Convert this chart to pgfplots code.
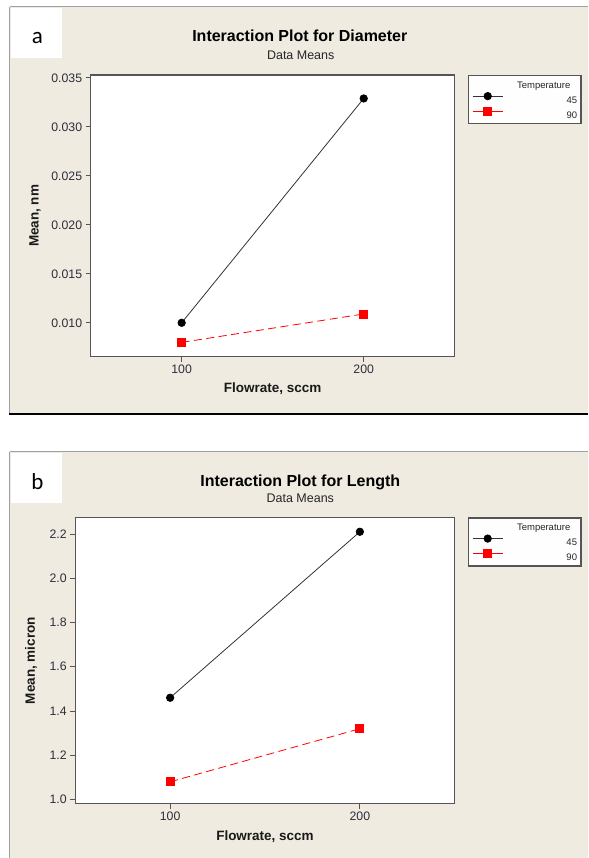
\documentclass[border=0pt]{standalone}
\usepackage{fontspec}
\setmainfont{Liberation Sans}
\newfontfamily\calibri{Carlito}
\usepackage{pgfplots}
\pgfplotsset{compat=1.18}
\definecolor{beige}{RGB}{239,235,225}
\definecolor{axgray}{RGB}{85,85,85}
\definecolor{ticktext}{RGB}{45,45,60}
\definecolor{framegray}{RGB}{160,160,160}
\definecolor{mred}{RGB}{255,0,0}

\pgfplotsset{
  every axis title shift=0pt,
  mtb/.style={
    scale only axis,
    axis background/.style={fill=white},
    axis line style={axgray, line width=1.2pt},
    xmin=50, xmax=250,
    xtick={100,200},
    tick align=outside,
    major tick length=5pt,
    tick style={axgray, line width=0.8pt},
    xtick pos=bottom, ytick pos=left,
    scaled y ticks=false,
    ticklabel style={font=\fontsize{12.3}{14}\selectfont, text=ticktext},
    /pgf/number format/assume math mode=true,
    label style={font=\bfseries\fontsize{13.5}{15}\selectfont, text=black!90},
    legend cell align=right,
    legend style={draw=axgray, line width=1.2pt, fill=white!97!beige,
      font=\fontsize{9.5}{11}\selectfont, text=black!85,
      inner xsep=4pt, inner ysep=1.5pt, row sep=0pt, column sep=0pt,
      anchor=north west,
      nodes={inner sep=0pt, text height=11pt, text depth=4pt, line width=0.4pt}},
    legend image code/.code={\draw[mark repeat=2,mark phase=2,#1]
      plot coordinates {(0pt,3.4pt) (15pt,3.4pt) (30pt,3.4pt)};},
  },
  s45/.style={black!80, line width=0.8pt, mark=*, mark size=3.7pt,
    mark options={solid, fill=black, draw=black}},
  s90/.style={mred, line width=0.8pt, dash pattern=on 8pt off 4.5pt,
    mark=square*, mark size=4pt, mark options={solid, fill=mred, draw=mred},
    legend image post style={solid}},
}

\begin{document}
\begin{tikzpicture}
% page background
\fill[white] (0pt,0pt) rectangle (588pt,858pt);
% ---- panel a frame
\fill[beige] (10pt,444pt) rectangle (588pt,851pt);
\draw[framegray, line width=1pt] (10pt,851pt) -- (588pt,851pt);
\draw[framegray, line width=1pt] (10pt,444pt) -- (10pt,851pt);
\draw[black, line width=1.8pt] (9.5pt,444pt) -- (588pt,444pt);
\fill[white] (11pt,800pt) rectangle (62pt,850pt);
\node[anchor=base, inner sep=0pt, font=\calibri\fontsize{23}{25}\selectfont] at (37.5pt,814.7pt) {a};
% ---- panel b frame
\fill[beige] (10pt,0pt) rectangle (588pt,406pt);
\draw[framegray, line width=1pt] (10pt,406pt) -- (588pt,406pt);
\draw[framegray, line width=1pt] (10pt,0pt) -- (10pt,406pt);
\fill[white] (11pt,355pt) rectangle (62pt,405pt);
\node[anchor=base, inner sep=0pt, font=\calibri\fontsize{23}{25}\selectfont] at (37.5pt,368pt) {b};

% ================= panel a
\begin{axis}[mtb,
  at={(90.7pt,501pt)}, anchor=south west,
  width=364.3pt, height=282pt,
  ymin=0.00653, ymax=0.0353,
  ytick={0.010,0.015,0.020,0.025,0.030,0.035},
  yticklabel style={/pgf/number format/.cd, fixed, fixed zerofill, precision=3},
  title={Interaction Plot for Diameter},
  title style={font=\bfseries\fontsize{16}{18}\selectfont, at={(axis description cs:0.5745,1.118)}, anchor=base, inner sep=0pt},
  xlabel={Flowrate, sccm},
  xlabel style={at={(axis description cs:0.5,-0.1277)}, anchor=base},
  ylabel={Mean, nm},
  ylabel style={at={(axis description cs:-0.1529,0.5)}, anchor=center},
  legend style={at={(axis description cs:1.0357,1)}},
  extra description/.code={
    \node[anchor=base, font=\fontsize{12.5}{14}\selectfont, text=black!85, inner sep=0pt]
      at (axis description cs:0.577,1.0557) {Data Means};
  },
]
\addlegendimage{empty legend}
\addlegendentry{\makebox[74pt][r]{Temperature\hspace{6.7pt}}}
\addplot[s45] coordinates {(100,0.0100) (200,0.0329)};
\addlegendentry{45\hspace{6.7pt}}
\addplot[s90] coordinates {(100,0.0080) (200,0.0109)};
\addlegendentry{90\hspace{6.7pt}}
\end{axis}

% ================= panel b
\begin{axis}[mtb,
  at={(75.3pt,53.7pt)}, anchor=south west,
  width=379.7pt, height=286.6pt,
  ymin=0.9806, ymax=2.275,
  ytick={1.0,1.2,1.4,1.6,1.8,2.0,2.2},
  yticklabel style={/pgf/number format/.cd, fixed, fixed zerofill, precision=1},
  title={Interaction Plot for Length},
  title style={font=\bfseries\fontsize{16}{18}\selectfont, at={(axis description cs:0.593,1.108)}, anchor=base, inner sep=0pt},
  xlabel={Flowrate, sccm},
  xlabel style={at={(axis description cs:0.5,-0.128)}, anchor=base},
  ylabel={Mean, micron},
  ylabel style={at={(axis description cs:-0.1167,0.5)}, anchor=center},
  legend style={at={(axis description cs:1.0342,1)}},
  extra description/.code={
    \node[anchor=base, font=\fontsize{12.5}{14}\selectfont, text=black!85, inner sep=0pt]
      at (axis description cs:0.593,1.0513) {Data Means};
  },
]
\addlegendimage{empty legend}
\addlegendentry{\makebox[74pt][r]{Temperature\hspace{6.7pt}}}
\addplot[s45] coordinates {(100,1.46) (200,2.21)};
\addlegendentry{45\hspace{6.7pt}}
\addplot[s90] coordinates {(100,1.08) (200,1.32)};
\addlegendentry{90\hspace{6.7pt}}
\end{axis}
\end{tikzpicture}
\end{document}
